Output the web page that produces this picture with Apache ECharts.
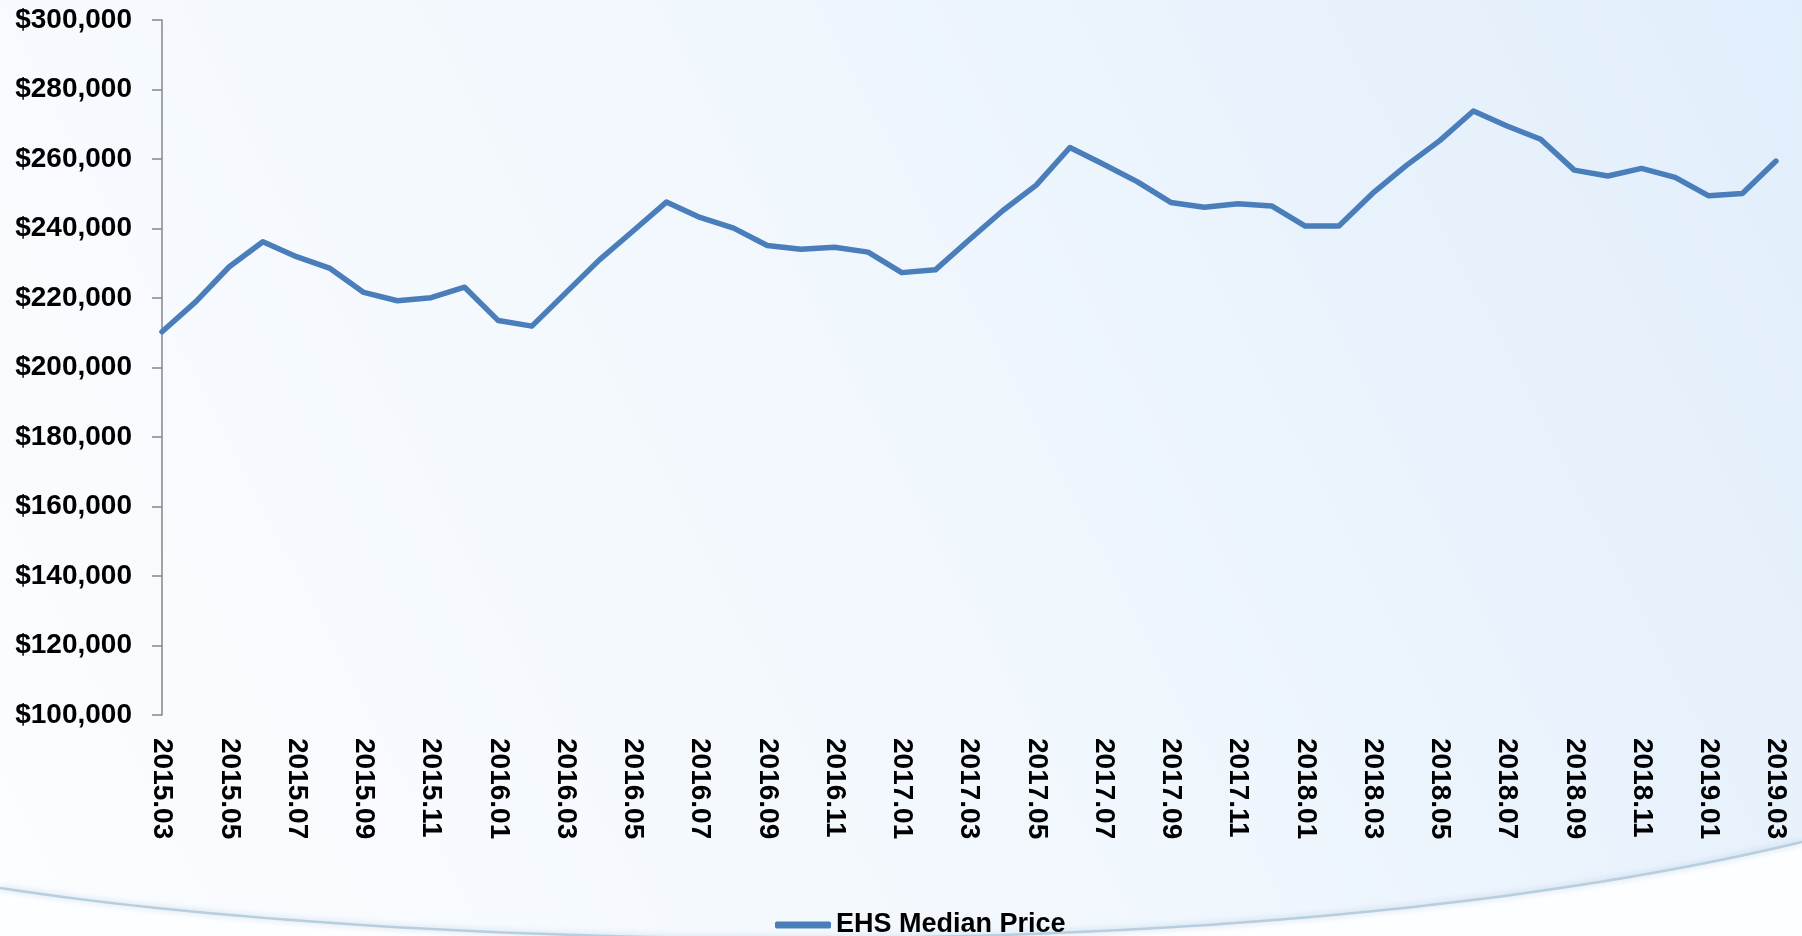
<!DOCTYPE html>
<html>
<head>
<meta charset="utf-8">
<title>EHS Median Price</title>
<script src="https://cdn.jsdelivr.net/npm/echarts@6/dist/echarts.min.js"></script>
<style>
    html, body { margin: 0; padding: 0; }
    #chart { width: 1802px; height: 936px; }
</style>
</head>
<body>
<div id="chart"></div>
<script>
//月份
var months = [
    '2015.03', '2015.04', '2015.05', '2015.06', '2015.07', '2015.08', '2015.09', '2015.10', '2015.11', '2015.12',
    '2016.01', '2016.02', '2016.03', '2016.04', '2016.05', '2016.06', '2016.07', '2016.08', '2016.09', '2016.10', '2016.11', '2016.12',
    '2017.01', '2017.02', '2017.03', '2017.04', '2017.05', '2017.06', '2017.07', '2017.08', '2017.09', '2017.10', '2017.11', '2017.12',
    '2018.01', '2018.02', '2018.03', '2018.04', '2018.05', '2018.06', '2018.07', '2018.08', '2018.09', '2018.10', '2018.11', '2018.12',
    '2019.01', '2019.02', '2019.03'
];
//中位价
var medianPrice = [
    210300, 218900, 229000, 236200, 231900, 228500, 221600, 219200, 220100, 223100,
    213500, 211900, 221400, 230900, 239200, 247600, 243200, 240100, 235100, 234000, 234600, 233200,
    227300, 228100, 236700, 245100, 252500, 263300, 258500, 253500, 247500, 246100, 247100, 246500,
    240700, 240700, 250100, 258100, 265300, 273800, 269500, 265700, 256800, 255100, 257300, 254700,
    249400, 250100, 259400
];
var seriesName = 'EHS Median Price';
//y轴范围
var yMin = 100000,
    yMax = 300000,
    yStep = 20000;

var font = "'Liberation Sans', Arial, sans-serif";

//底部弧线（装饰），三次贝塞尔取点
function arcPoints() {
    var p0 = [0, 888], c1 = [400, 950], c2 = [1250, 975], p3 = [1802, 842];
    var pts = [];
    for (var i = 0; i <= 60; i++) {
        var t = i / 60, u = 1 - t;
        pts.push([
            u * u * u * p0[0] + 3 * u * u * t * c1[0] + 3 * u * t * t * c2[0] + t * t * t * p3[0],
            u * u * u * p0[1] + 3 * u * u * t * c1[1] + 3 * u * t * t * c2[1] + t * t * t * p3[1]
        ]);
    }
    return pts;
}
var arc = arcPoints();

var chart = echarts.init(document.getElementById('chart'));
chart.setOption({
    backgroundColor: new echarts.graphic.LinearGradient(0, 1, 1, 0, [
        { offset: 0, color: '#fbfdff' },
        { offset: 0.5, color: '#f1f7fd' },
        { offset: 1, color: '#e1eefb' }
    ]),
    graphic: [{
        type: 'polygon',
        silent: true,
        z: -1,
        shape: { points: arc.concat([[1802, 936], [0, 936]]) },
        style: { fill: '#fdfeff' }
    }, {
        type: 'polyline',
        silent: true,
        z: -1,
        shape: { points: arc },
        style: {
            fill: null,
            stroke: '#b7cedf',
            lineWidth: 2.5,
            shadowBlur: 6,
            shadowColor: 'rgba(150,185,215,0.6)'
        }
    }],
    grid: {
        left: 162,
        right: 26,
        top: 20,
        bottom: 221
    },
    legend: {
        left: 770,
        top: 906,
        itemWidth: 56,
        itemHeight: 7,
        itemGap: 5,
        icon: 'roundRect',
        data: [seriesName],
        textStyle: {
            fontFamily: font,
            fontWeight: 'bold',
            fontSize: 27,
            color: '#000',
            lineHeight: 28
        }
    },
    xAxis: {
        type: 'category',
        boundaryGap: false,
        data: months,
        axisLine: { show: false },
        axisTick: { show: false },
        axisLabel: {
            interval: 1,
            rotate: -90,
            margin: 23,
            fontFamily: font,
            fontWeight: 'bold',
            fontSize: 28,
            color: '#000'
        }
    },
    yAxis: {
        type: 'value',
        min: yMin,
        max: yMax,
        interval: yStep,
        splitLine: { show: false },
        axisLine: {
            show: true,
            lineStyle: { color: '#868686', width: 1.5 }
        },
        axisTick: {
            show: true,
            length: 10,
            lineStyle: { color: '#868686', width: 1.5 }
        },
        axisLabel: {
            margin: 30,
            fontFamily: font,
            fontWeight: 'bold',
            fontSize: 28,
            color: '#000',
            formatter: function (v) {
                return '$' + v.toLocaleString('en-US');
            }
        }
    },
    series: [{
        name: seriesName,
        type: 'line',
        data: medianPrice,
        showSymbol: false,
        symbol: 'none',
        color: '#4a7ebb',
        lineStyle: {
            color: '#4a7ebb',
            width: 5.5,
            cap: 'round',
            join: 'round'
        }
    }]
});
</script>
</body>
</html>
